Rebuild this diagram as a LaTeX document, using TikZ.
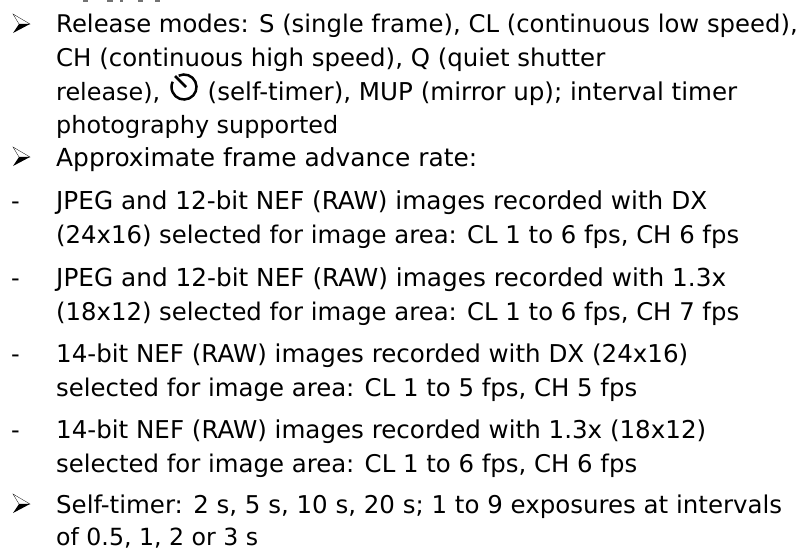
\documentclass[tikz,border=0pt]{standalone}
\usepackage{fontspec}
\setmainfont{DejaVu Sans}
\newcommand{\fitw}[2]{\resizebox{#1pt}{!}{#2}}
\tikzset{line/.style={anchor=base west,inner sep=0pt,font=\fontsize{24}{28}\selectfont},
 bulletmark/.pic={
  \filldraw[black,line width=.3pt,fill=white] (-8.5,-10) -- (8.5,0) -- (-2.5,0) -- cycle;
  \fill[black] (-8.5,9) -- (8.5,0) -- (-2.5,0) -- cycle;
 },
 frag/.style={fill=black!55,draw=none}}
\begin{document}
\begin{tikzpicture}[x=1pt,y=-1pt]
\useasboundingbox (0,0) rectangle (799,550);
\fill[white] (0,0) rectangle (799,550);
\fill[frag] (83,0) rectangle (88,1.5);
\fill[frag] (107,0) rectangle (113,1.5);
\fill[frag] (120,0) rectangle (123,1.5);
\fill[frag] (138,0) rectangle (143,1.5);
\fill[frag] (155,0) rectangle (160,1.5);
\path (21.5,24) pic {bulletmark};
\path (21.5,157) pic {bulletmark};
\path (21.5,504) pic {bulletmark};
\node[line] (t1) at (56,32) {\fitw{741.5}{Release modes: S (single frame), CL (continuous low speed),}};
\node[line] (t2) at (56,66) {\fitw{549}{CH (continuous high speed), Q (quiet shutter}};
\node[line] (t3a) at (56,100) {\fitw{104}{release),}};
\draw[black,line width=2.5pt] ([shift={(245:12.5)}]184,87) arc[start angle=245,end angle=565,radius=12.5];
\draw[black,line width=2.8pt] (175,76) -- (186,87);
\node[line] (t3) at (207.5,100) {\fitw{529.5}{(self-timer), MUP (mirror up); interval timer}};
\node[line] (t4) at (56,133) {\fitw{282}{photography supported}};
\node[line] (t5) at (56,166) {\fitw{421}{Approximate frame advance rate:}};
\node[line] (d1) at (11,209) {-};
\node[line] (t6) at (56,209) {\fitw{651}{JPEG and 12-bit NEF (RAW) images recorded with DX}};
\node[line] (t7) at (56,243) {\fitw{683}{(24x16) selected for image area: CL 1 to 6 fps, CH 6 fps}};
\node[line] (d2) at (11,286) {-};
\node[line] (t8) at (56,286) {\fitw{670}{JPEG and 12-bit NEF (RAW) images recorded with 1.3x}};
\node[line] (t9) at (56,320) {\fitw{683}{(18x12) selected for image area: CL 1 to 6 fps, CH 7 fps}};
\node[line] (d3) at (11,362) {-};
\node[line] (t10) at (56,362) {\fitw{632}{14-bit NEF (RAW) images recorded with DX (24x16)}};
\node[line] (t11) at (56,396) {\fitw{581}{selected for image area: CL 1 to 5 fps, CH 5 fps}};
\node[line] (d4) at (11,438) {-};
\node[line] (t12) at (56,438) {\fitw{650}{14-bit NEF (RAW) images recorded with 1.3x (18x12)}};
\node[line] (t13) at (56,472) {\fitw{581}{selected for image area: CL 1 to 6 fps, CH 6 fps}};
\node[line] (t14) at (56,513) {\fitw{726}{Self-timer: 2 s, 5 s, 10 s, 20 s; 1 to 9 exposures at intervals}};
\node[line] (t15) at (56,545.5) {\fitw{202}{of 0.5, 1, 2 or 3 s}};
\end{tikzpicture}
\end{document}
